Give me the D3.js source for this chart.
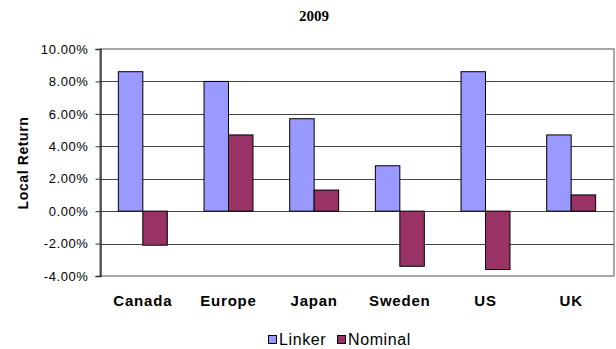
<!DOCTYPE html>
<html><head><meta charset="utf-8">
<script src="https://cdn.jsdelivr.net/npm/d3@7"></script>
<style>body{margin:0;background:#fff}svg{display:block}</style>
</head><body>
<svg id="c" width="616" height="349"></svg>
<script>
const categories = ["Canada","Europe","Japan","Sweden","US","UK"];
const seriesNames = ["Linker","Nominal"];
const linker = [8.6, 8.0, 5.7, 2.8, 8.6, 4.7];
const nominal = [-2.1, 4.7, 1.3, -3.4, -3.6, 1.0];
const yTicks = [-4,-2,0,2,4,6,8,10];
const colors = ["#9999FF","#993366"];
const title = "2009";
const yLabel = "Local Return";

const SANS = "'Liberation Sans', Arial, sans-serif";
const svg = d3.select("#c");
const L = 100, R = 614, T = 49, B = 276;
const x = d3.scaleBand().domain(categories).range([L, R]).paddingInner(0).paddingOuter(0);
const y = d3.scaleLinear().domain([-4, 10]).range([B, T]);
const sub = d3.scaleBand().domain(seriesNames).range([0, x.bandwidth()]).paddingInner(0).paddingOuter(0.75);

// plot border
svg.append("rect").attr("x", L).attr("y", T).attr("width", R - L).attr("height", B - T)
  .attr("fill", "#fff").attr("stroke", "#8c8c8c").attr("stroke-width", 1.5);

// gridlines
svg.append("g").selectAll("line").data(yTicks.filter(d => d > -4 && d < 10)).join("line")
  .attr("x1", L).attr("x2", R).attr("y1", d => Math.round(y(d)) + 0.5).attr("y2", d => Math.round(y(d)) + 0.5)
  .attr("stroke", "#444").attr("stroke-width", 1);

// bars
const data = categories.map((c, i) => ({c, vals: [linker[i], nominal[i]]}));
const g = svg.append("g");
data.forEach(d => {
  d.vals.forEach((v, j) => {
    g.append("rect")
      .attr("x", x(d.c) + sub(seriesNames[j]))
      .attr("width", sub.bandwidth())
      .attr("y", y(Math.max(0, v)))
      .attr("height", Math.abs(y(v) - y(0)))
      .attr("fill", colors[j]).attr("stroke", "#000").attr("stroke-width", 1);
  });
});

// y axis
const ax = svg.append("g").attr("transform", `translate(${L + 0.5},0)`)
  .call(d3.axisLeft(y).tickValues(yTicks).tickSize(5).tickPadding(7).tickFormat(d => d.toFixed(2) + "%"));
ax.select(".domain").attr("stroke", "#333").attr("stroke-width", 1.5);
ax.selectAll(".tick line").attr("stroke", "#333");
ax.selectAll("text").attr("font-family", SANS)
  .attr("font-size", 13).attr("letter-spacing", "0.6px").attr("fill", "#000");

// category labels
svg.append("g").selectAll("text").data(categories).join("text")
  .attr("x", d => x(d) + x.bandwidth() / 2).attr("y", 306)
  .attr("text-anchor", "middle").attr("font-family", SANS)
  .attr("font-weight", "bold").attr("font-size", 15).attr("letter-spacing", "0.8px").text(d => d);

// title
svg.append("text").attr("x", 314).attr("y", 21).attr("text-anchor", "middle")
  .attr("font-family", "'Liberation Serif', 'Times New Roman', serif").attr("font-weight", "bold")
  .attr("font-size", 15).text(title);

// y label
svg.append("text").attr("transform", "translate(28,163) rotate(-90)").attr("text-anchor", "middle")
  .attr("font-family", SANS).attr("font-weight", "bold")
  .attr("font-size", 14).attr("letter-spacing", "0.6px").text(yLabel);

// legend
const legX = [268, 337];
const lg = svg.append("g");
seriesNames.forEach((s, j) => {
  lg.append("rect").attr("x", legX[j] + 0.5).attr("y", 335.5).attr("width", 8).attr("height", 8)
    .attr("fill", colors[j]).attr("stroke", "#000").attr("stroke-width", 1);
  lg.append("text").attr("x", legX[j] + 11).attr("y", 345)
    .attr("font-family", SANS).attr("font-size", 16)
    .attr("letter-spacing", "0.6px").text(s);
});
</script>
</body></html>
